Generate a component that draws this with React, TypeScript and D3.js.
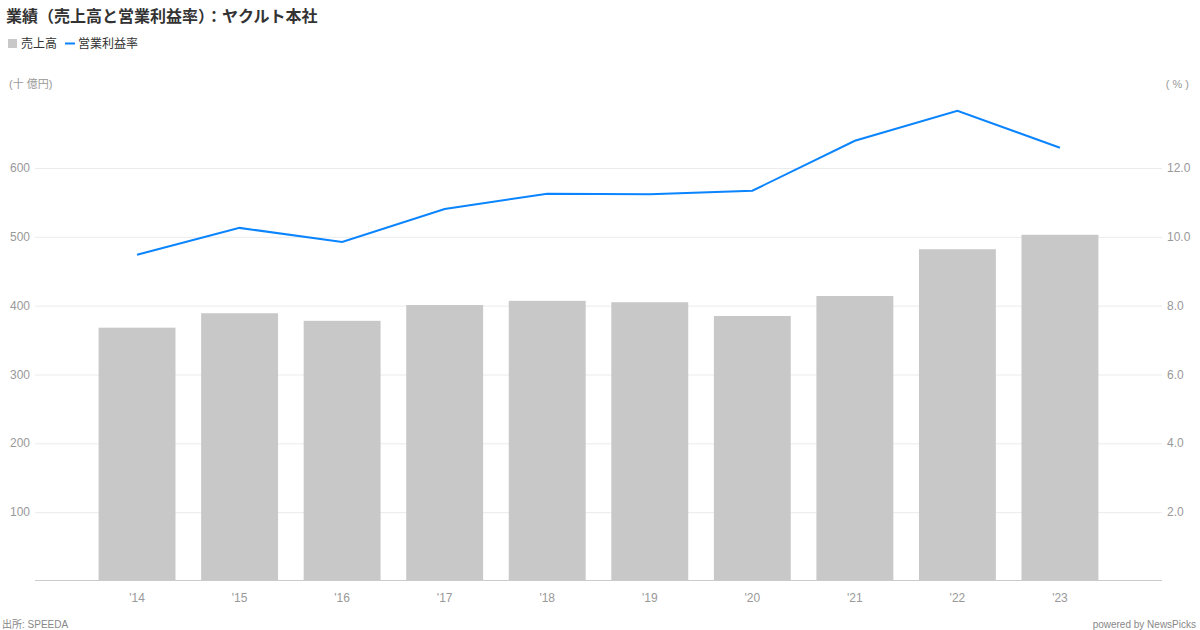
import React, { useEffect, useRef } from "react";
import * as d3 from "d3";

const years = ["'14", "'15", "'16", "'17", "'18", "'19", "'20", "'21", "'22", "'23"];
const sales = [368, 389, 378, 401, 407, 405, 385, 414, 482, 503];
const margin = [9.48, 10.26, 9.85, 10.81, 11.25, 11.24, 11.34, 12.79, 13.66, 12.59];
const leftTicks = [100, 200, 300, 400, 500, 600];
const rightTicks = [2, 4, 6, 8, 10, 12];

const FONT = "'Liberation Sans', 'Noto Sans CJK JP', sans-serif";

const App: React.FC = () => {
  const svgRef = useRef<SVGSVGElement>(null);

  useEffect(() => {
    if (!svgRef.current) return;
    const svg = d3.select(svgRef.current);
    svg.selectAll("*").remove();

    const W = 1200;
    const H = 630;
    const left = 35;
    const right = 1162;
    const bottom = 581;

    const x = d3
      .scaleBand()
      .domain(years)
      .range([left, right])
      .paddingInner(0.25)
      .paddingOuter(0.62);

    // 0..600 maps to 581..168
    const yL = d3.scaleLinear().domain([0, 600]).range([bottom, 168]);
    const yR = d3.scaleLinear().domain([0, 12]).range([bottom, 168]);

    svg.attr("width", W).attr("height", H).style("font-family", FONT);

    // Title
    svg
      .append("text")
      .attr("x", 6)
      .attr("y", 22)
      .attr("font-size", 16)
      .attr("font-weight", "bold")
      .attr("fill", "#333")
      .style("font-family", "'Noto Sans CJK JP', sans-serif")
      .text("業績（売上高と営業利益率）：ヤクルト本社");

    // Legend
    svg.append("rect").attr("x", 8).attr("y", 39).attr("width", 9).attr("height", 9).attr("fill", "#c8c8c8");
    svg.append("text").attr("x", 21).attr("y", 48).attr("font-size", 12).attr("fill", "#333").text("売上高");
    svg.append("rect").attr("x", 65).attr("y", 42.5).attr("width", 10).attr("height", 2).attr("fill", "#0a84ff");
    svg.append("text").attr("x", 78).attr("y", 48).attr("font-size", 12).attr("fill", "#333").text("営業利益率");

    // Unit labels
    svg.append("text").attr("x", 9).attr("y", 88).attr("font-size", 11).attr("fill", "#999").text("(十 億円)");
    svg.append("text").attr("x", 1189).attr("y", 88).attr("font-size", 11).attr("fill", "#999").attr("text-anchor", "end").text("( % )");

    // Gridlines
    svg
      .append("g")
      .selectAll("line")
      .data(leftTicks)
      .enter()
      .append("line")
      .attr("x1", left)
      .attr("x2", right)
      .attr("y1", (d) => yL(d) + 0.5)
      .attr("y2", (d) => yL(d) + 0.5)
      .attr("stroke", "#ebebeb");

    // Left tick labels
    svg
      .append("g")
      .selectAll("text")
      .data(leftTicks)
      .enter()
      .append("text")
      .attr("x", 30)
      .attr("y", (d) => yL(d) + 4)
      .attr("text-anchor", "end")
      .attr("font-size", 12)
      .attr("fill", "#999")
      .text((d) => d);

    // Right tick labels
    svg
      .append("g")
      .selectAll("text")
      .data(rightTicks)
      .enter()
      .append("text")
      .attr("x", 1167)
      .attr("y", (d) => yR(d) + 4)
      .attr("font-size", 12)
      .attr("fill", "#999")
      .text((d) => d.toFixed(1));

    // Bars
    svg
      .append("g")
      .selectAll("rect")
      .data(sales)
      .enter()
      .append("rect")
      .attr("x", (_, i) => x(years[i])!)
      .attr("y", (d) => yL(d))
      .attr("width", x.bandwidth())
      .attr("height", (d) => bottom - yL(d))
      .attr("fill", "#c8c8c8");

    // Axis line
    svg
      .append("line")
      .attr("x1", left)
      .attr("x2", right)
      .attr("y1", bottom - 0.5)
      .attr("y2", bottom - 0.5)
      .attr("stroke", "#ccc");

    // X labels
    svg
      .append("g")
      .selectAll("text")
      .data(years)
      .enter()
      .append("text")
      .attr("x", (d) => x(d)! + x.bandwidth() / 2)
      .attr("y", 602)
      .attr("text-anchor", "middle")
      .attr("font-size", 12)
      .attr("fill", "#999")
      .text((d) => d);

    // Line
    const line = d3
      .line<number>()
      .x((_, i) => x(years[i])! + x.bandwidth() / 2)
      .y((d) => yR(d));
    svg
      .append("path")
      .datum(margin)
      .attr("d", line)
      .attr("fill", "none")
      .attr("stroke", "#0a84ff")
      .attr("stroke-width", 2);

    // Footer
    svg.append("text").attr("x", 2).attr("y", 628).attr("font-size", 10).attr("fill", "#888").text("出所: SPEEDA");
    svg
      .append("text")
      .attr("x", 1196)
      .attr("y", 628)
      .attr("font-size", 10)
      .attr("fill", "#888")
      .attr("text-anchor", "end")
      .text("powered by NewsPicks");
  }, []);

  return <svg ref={svgRef} style={{ position: "absolute", left: 0, top: 0 }} />;
};

export default App;
